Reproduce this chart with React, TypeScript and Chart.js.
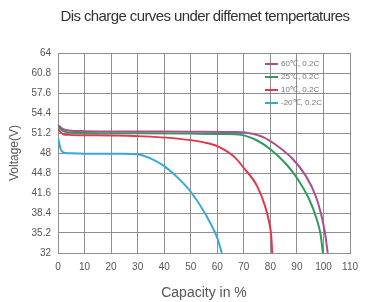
import React, { useEffect, useRef } from "react";
import { Chart, registerables } from "chart.js";

Chart.register(...registerables);

const titleText = "Dis charge curves under diffemet tempertatures";
const xTitle = "Capacity in %";
const yTitle = "Voltage(V)";

const yTickValues = [32, 35.2, 38.4, 41.6, 44.8, 48, 51.2, 54.4, 57.6, 60.8, 64];
const yTickLabels = ["32", "35.2", "38.4", "41.6", "44.8", "48", "51.2", "54.4", "57.6", "60.8", "64"];

const seriesLabels = ["60℃, 0.2C", "25℃, 0.2C", "10℃, 0.2C", "-20℃, 0.2C"];
const seriesColors = ["#a9508f", "#2f9a5e", "#e2384d", "#35a8da"];

const x60 = [0, 1, 2, 4, 10, 30, 50, 65, 71.5, 77.5, 82.4, 88.5, 93.4, 97, 99, 100.5, 101.6];
const v60 = [52.5, 52.1, 51.8, 51.6, 51.5, 51.45, 51.4, 51.35, 51.2, 50.5, 49.2, 47.0, 44.3, 41.2, 38.4, 35.4, 32];

const x25 = [0, 1, 2, 4, 10, 30, 50, 62, 69, 75, 80, 86, 90, 94.6, 97.3, 98.9, 99.8];
const v25 = [52.2, 51.8, 51.5, 51.3, 51.2, 51.15, 51.1, 51.05, 50.9, 50.0, 48.6, 46.2, 44.0, 40.6, 37.6, 35.0, 32];

const x10 = [0, 1, 2, 4, 10, 20, 30, 45, 55, 60, 66.6, 70, 75, 78, 79.4, 80.3, 80.7];
const v10 = [51.8, 51.3, 51.0, 50.9, 50.85, 50.8, 50.7, 50.3, 49.7, 49.1, 47.3, 45.6, 42.7, 39.5, 37.2, 34.8, 32];

const xm20 = [0, 0.5, 1, 2, 3, 5, 10, 20, 25, 30, 35, 40, 45, 50, 55.7, 60, 61.7];
const vm20 = [50.4, 49.5, 48.6, 48.1, 48.0, 47.95, 47.9, 47.9, 47.9, 47.8, 47.1, 45.9, 44.1, 41.8, 38.1, 34.4, 32];

const seriesX = [x60, x25, x10, xm20];
const seriesV = [v60, v25, v10, vm20];

const FONT = "'Liberation Sans', Arial, sans-serif";

const overlayPlugin = {
  id: "overlay",
  afterDatasetsDraw(chart: any) {
    const ctx = chart.ctx;
    ctx.save();
    chart.data.datasets.forEach((ds: any, i: number) => {
      const y = 64 + i * 13;
      ctx.strokeStyle = ds.borderColor;
      ctx.lineWidth = 2;
      ctx.beginPath();
      ctx.moveTo(265, y);
      ctx.lineTo(278, y);
      ctx.stroke();
      ctx.fillStyle = "#777";
      ctx.font = "8px " + FONT;
      ctx.textAlign = "left";
      ctx.textBaseline = "middle";
      ctx.fillText(ds.label, 281, y);
    });
    ctx.fillStyle = "#333";
    ctx.font = "15px " + FONT;
    try {
      (ctx as any).letterSpacing = "-0.6px";
    } catch (e) {}
    ctx.textAlign = "center";
    ctx.textBaseline = "middle";
    ctx.fillText(titleText, 205, 17);
    ctx.restore();
  },
};

export default function App() {
  const ref = useRef<HTMLCanvasElement | null>(null);
  useEffect(() => {
    if (!ref.current) return;
    const chart = new Chart(ref.current, {
      type: "line",
      data: {
        datasets: seriesLabels.map((label, i) => ({
          label,
          data: seriesX[i].map((x, j) => ({ x, y: seriesV[i][j] })),
          borderColor: seriesColors[i],
          backgroundColor: seriesColors[i],
          borderWidth: 2,
          pointRadius: 0,
          cubicInterpolationMode: "monotone" as const,
          fill: false,
        })),
      },
      options: {
        animation: false,
        responsive: true,
        maintainAspectRatio: false,
        layout: { padding: { top: 53, right: 8, left: 0, bottom: 0 } },
        plugins: {
          legend: { display: false },
          title: { display: false },
          tooltip: { enabled: false },
        },
        scales: {
          x: {
            type: "linear",
            min: 0,
            max: 110,
            ticks: { stepSize: 10, color: "#555", font: { size: 10, family: FONT }, padding: 8 },
            grid: { color: "#8e8e8e", drawTicks: false, lineWidth: 1 },
            border: { color: "#8e8e8e" },
            title: {
              display: true,
              text: xTitle,
              color: "#555",
              font: { size: 14, family: FONT },
              padding: { top: 0, bottom: 0 },
            },
            afterFit(scale: any) {
              scale.height = 49;
            },
          },
          y: {
            type: "linear",
            min: 32,
            max: 64,
            afterBuildTicks(scale: any) {
              scale.ticks = yTickValues.map((v) => ({ value: v }));
            },
            ticks: {
              color: "#555",
              font: { size: 10, family: FONT },
              padding: 7,
              callback: (_v: any, i: number) => yTickLabels[i],
            },
            grid: { color: "#8e8e8e", drawTicks: false, lineWidth: 1 },
            border: { color: "#8e8e8e" },
            title: {
              display: true,
              text: yTitle,
              color: "#555",
              font: { size: 12, family: FONT },
              padding: { top: 7, bottom: 0 },
            },
            afterFit(scale: any) {
              scale.width = 58;
            },
          },
        },
      },
      plugins: [overlayPlugin],
    });
    return () => chart.destroy();
  }, []);
  return (
    <div style={{ position: "absolute", left: 0, top: 0, width: 366, height: 302, background: "#fff" }}>
      <canvas ref={ref} />
    </div>
  );
}
